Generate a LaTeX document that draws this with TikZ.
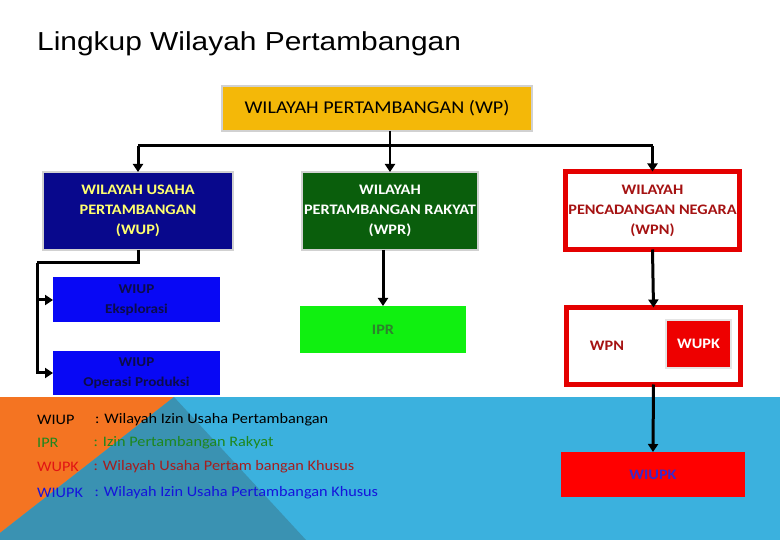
\documentclass[tikz,border=0pt]{standalone}
\usepackage{fontspec}
\setmainfont{Carlito}[FakeStretch=1.12]
\newfontfamily\titlefont{Liberation Sans}[FakeStretch=1.15]
\usetikzlibrary{arrows.meta}
\definecolor{wpyellow}{RGB}{244,184,8}
\definecolor{wupnavy}{RGB}{8,8,140}
\definecolor{wupyellow}{RGB}{255,255,110}
\definecolor{wprgreen}{RGB}{10,94,12}
\definecolor{wiupblue}{RGB}{8,8,245}
\definecolor{wiuptext}{RGB}{12,12,75}
\definecolor{iprgreen}{RGB}{16,240,16}
\definecolor{iprtext}{RGB}{45,130,45}
\definecolor{wpnred}{RGB}{228,0,0}
\definecolor{wpntext}{RGB}{165,18,18}
\definecolor{wupkred}{RGB}{238,0,0}
\definecolor{wiupkred}{RGB}{255,0,0}
\definecolor{wiupktext}{RGB}{60,40,200}
\definecolor{bgorange}{RGB}{244,116,34}
\definecolor{bglight}{RGB}{59,177,222}
\definecolor{bgdark}{RGB}{58,146,178}
\definecolor{lggreen}{RGB}{30,135,30}
\definecolor{lgred}{RGB}{225,20,20}
\definecolor{lgdred}{RGB}{165,30,30}
\definecolor{lgblue}{RGB}{20,20,220}
\begin{document}
\begin{tikzpicture}[x=1pt,y=-1pt,
  box/.style={rectangle, inner sep=0pt, outer sep=0pt, align=center,
    font=\fontsize{14.5}{20}\selectfont\bfseries},
  glow/.style={draw=black!18, line width=2.5pt},
  redframe/.style={draw=wpnred, line width=5pt, fill=white},
  conn/.style={line width=3pt, black},
  arr/.style={conn, -{Triangle[length=8pt,width=10pt]}},
  legend/.style={anchor=west, inner sep=0pt, font=\fontsize{14.5}{17}\selectfont}
]
\useasboundingbox (0,0) rectangle (780,540);
% background
\fill[white] (0,0) rectangle (780,540);
\fill[bglight] (0,397) rectangle (780,540);
\fill[bgorange] (0,397) -- (174,397) -- (0,533) -- cycle;
\fill[bgdark] (174,397) -- (0,533) -- (0,540) -- (306,540) -- cycle;

% title
\node[anchor=west, inner sep=0pt, font=\titlefont\fontsize{26}{28}\selectfont] (title) at (37,44) {Lingkup Wilayah Pertambangan};

% top box
\node[box, glow, fill=wpyellow, minimum width=310pt, minimum height=45pt,
  font=\fontsize{18}{20}\selectfont] (wp) at (377,108.5) {WILAYAH PERTAMBANGAN (WP)};

% second row
\node[box, glow, fill=wupnavy, text=wupyellow, minimum width=190pt, minimum height=78pt] (wup) at (138,211) {WILAYAH USAHA\\PERTAMBANGAN\\(WUP)};
\node[box, glow, fill=wprgreen, text=white, minimum width=176pt, minimum height=78pt] (wpr) at (390,211) {WILAYAH\\PERTAMBANGAN RAKYAT\\(WPR)};
\node[box, redframe, text=wpntext, minimum width=174pt, minimum height=78pt] (wpn) at (652.5,210.5) {WILAYAH\\PENCADANGAN NEGARA\\(WPN)};

% third row
\node[box, fill=wiupblue, text=wiuptext, minimum width=167pt, minimum height=45pt,
  font=\fontsize{13.5}{20}\selectfont\bfseries] (wiup1) at (136.5,300) {WIUP\\Eksplorasi};
\node[box, fill=wiupblue, text=wiuptext, minimum width=167pt, minimum height=44pt,
  font=\fontsize{13.5}{20}\selectfont\bfseries] (wiup2) at (136.5,373) {WIUP\\Operasi Produksi};
\node[box, fill=iprgreen, text=iprtext, minimum width=166pt, minimum height=47pt] (ipr) at (383,329.5) {IPR};
\node[box, redframe, minimum width=174pt, minimum height=77pt] (wpnin) at (653.5,346) {};
\node[box, text=wpntext] (wpnlabel) at (607,346) {WPN};
\node[box, fill=wupkred, text=white, draw=black!10, line width=2pt, minimum width=65pt, minimum height=48pt] (wupk) at (698.5,344) {WUPK};
\node[box, fill=wiupkred, text=wiupktext, minimum width=184pt, minimum height=45pt] (wiupk) at (653,474.5) {WIUPK};

% connectors
\coordinate (bus) at (390,146);
\draw[conn] (wup.north |- bus) -- (wpn.north |- bus);
\draw[arr] (wup.north |- bus) -- (wup.north);
\draw[arr] (wpn.north |- bus) -- (wpn.north);
\draw[arr, line width=2pt] (wp.south -| wpr.north) -- (wpr.north);
\coordinate (jn) at (37,263);
\draw[conn] (wup.south) |- (jn);
\draw[arr] (jn) |- (wiup2.west);
\draw[arr] (jn |- wiup1.west) -- (wiup1.west);
\draw[arr] (ipr.north |- wpr.south) -- (ipr.north);
\draw[arr] (wpn.south) -- (wpnin.north);
\draw[arr] (wpnin.south) -- (wiupk.north);

% legend
\node[legend, text=black] (l1a) at (37,420) {WIUP};
\node[legend, text=black] (l1b) at (95,420) {: Wilayah Izin Usaha Pertambangan};
\node[legend, text=lggreen] (l2a) at (37,443) {IPR};
\node[legend, text=lggreen] (l2b) at (93.5,443) {: Izin Pertambangan Rakyat};
\node[legend, text=lgred] (l3a) at (37,467) {WUPK};
\node[legend, text=lgdred] (l3b) at (93.5,467) {: Wilayah Usaha Pertam bangan Khusus};
\node[legend, text=lgblue] (l4a) at (37,493) {WIUPK};
\node[legend, text=lgblue] (l4b) at (94.5,493) {: Wilayah Izin Usaha Pertambangan Khusus};
\end{tikzpicture}
\end{document}
